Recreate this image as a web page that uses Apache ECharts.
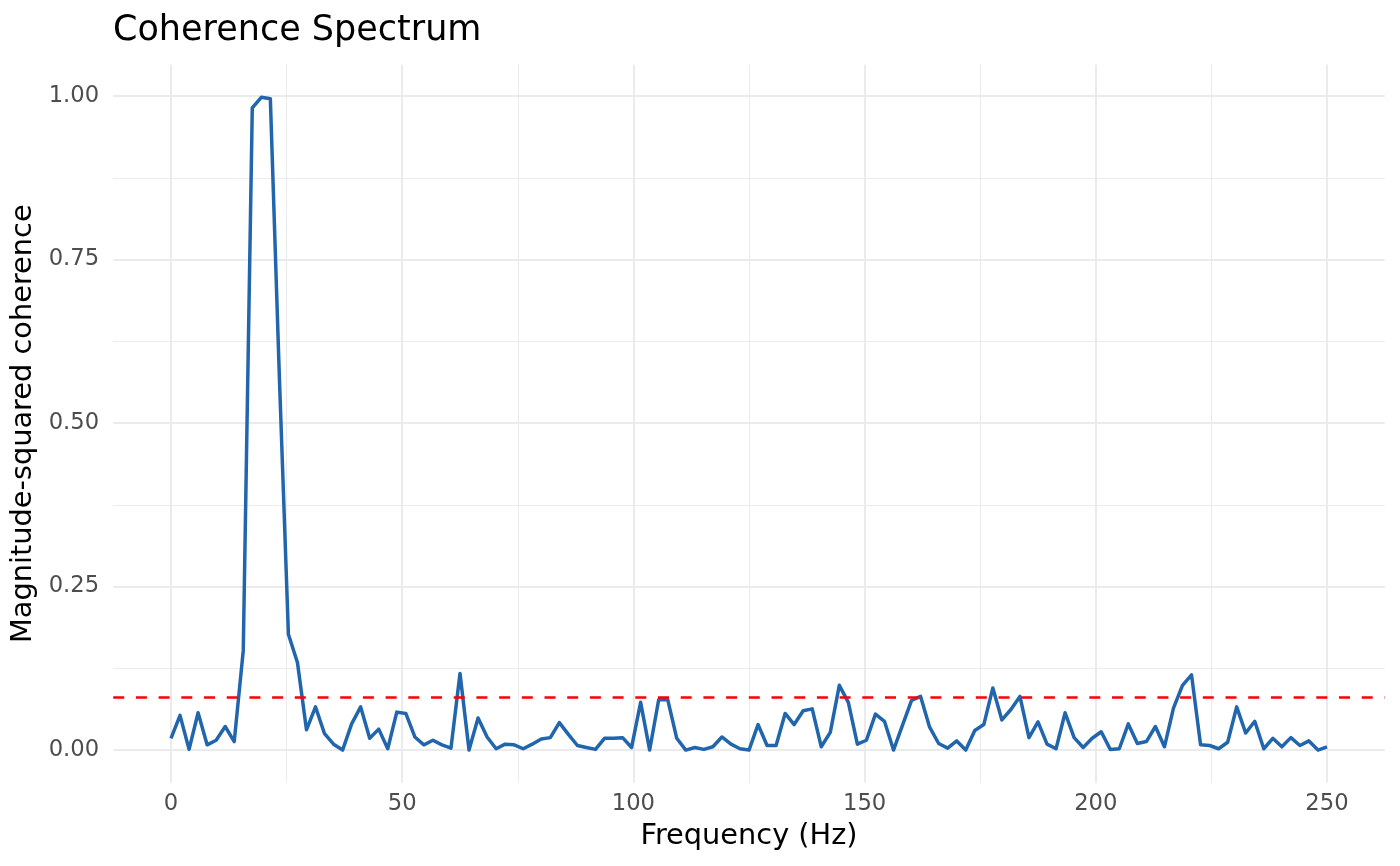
<!DOCTYPE html>
<html>
<head>
<meta charset="utf-8">
<script src="https://cdn.jsdelivr.net/npm/echarts@6/dist/echarts.min.js"></script>
<style>
html,body{margin:0;padding:0;background:#fff;}
#chart{width:1400px;height:866px;}
</style>
</head>
<body>
<div id="chart"></div>
<script>
const frequencies = [0,1.953,3.906,5.859,7.813,9.766,11.719,13.672,15.625,17.578,19.531,21.484,23.438,25.391,27.344,29.297,31.25,33.203,35.156,37.109,39.063,41.016,42.969,44.922,46.875,48.828,50.781,52.734,54.688,56.641,58.594,60.547,62.5,64.453,66.406,68.359,70.313,72.266,74.219,76.172,78.125,80.078,82.031,83.984,85.938,87.891,89.844,91.797,93.75,95.703,97.656,99.609,101.563,103.516,105.469,107.422,109.375,111.328,113.281,115.234,117.188,119.141,121.094,123.047,125,126.953,128.906,130.859,132.813,134.766,136.719,138.672,140.625,142.578,144.531,146.484,148.438,150.391,152.344,154.297,156.25,158.203,160.156,162.109,164.063,166.016,167.969,169.922,171.875,173.828,175.781,177.734,179.688,181.641,183.594,185.547,187.5,189.453,191.406,193.359,195.313,197.266,199.219,201.172,203.125,205.078,207.031,208.984,210.938,212.891,214.844,216.797,218.75,220.703,222.656,224.609,226.563,228.516,230.469,232.422,234.375,236.328,238.281,240.234,242.188,244.141,246.094,248.047,250];
const coherence = [0.018,0.053,0.001,0.057,0.008,0.015,0.036,0.013,0.152,0.982,0.998,0.996,0.57,0.177,0.134,0.031,0.066,0.025,0.009,0.000,0.040,0.066,0.018,0.032,0.002,0.058,0.056,0.020,0.008,0.015,0.008,0.003,0.117,0.000,0.049,0.020,0.002,0.009,0.008,0.002,0.009,0.017,0.019,0.042,0.024,0.007,0.004,0.001,0.018,0.018,0.019,0.004,0.073,0.000,0.077,0.077,0.018,0.000,0.004,0.001,0.005,0.020,0.009,0.002,0.000,0.039,0.007,0.007,0.056,0.039,0.060,0.063,0.005,0.027,0.099,0.073,0.009,0.015,0.055,0.044,0.000,0.038,0.076,0.082,0.035,0.010,0.003,0.014,0.000,0.030,0.039,0.095,0.046,0.062,0.082,0.019,0.043,0.009,0.002,0.057,0.019,0.004,0.018,0.028,0.001,0.002,0.040,0.010,0.013,0.036,0.005,0.064,0.099,0.115,0.008,0.007,0.002,0.012,0.066,0.026,0.044,0.002,0.018,0.005,0.019,0.007,0.014,0.000,0.005];
const threshold = 0.0775;
const xMajorTicks = [0,50,100,150,200,250];
const xMinorTicks = [25,75,125,175,225];
const yMajorTicks = [0,0.25,0.5,0.75,1];
const yMinorTicks = [0.125,0.375,0.625,0.875];

const FONT = 'DejaVu Sans';
const GRID_COLOR = '#EBEBEB';
const xMin = -12.5, xMax = 262.5;
const yMin = -0.0499, yMax = 1.0479;

const chart = echarts.init(document.getElementById('chart'), null, {renderer:'canvas'});
chart.setOption({
  animation: false,
  backgroundColor: '#ffffff',
  title: {
    text: 'Coherence Spectrum',
    left: 113, top: 13, padding: 0,
    textStyle: {fontFamily: FONT, fontSize: 35, fontWeight: 'normal', color: '#000000'}
  },
  grid: {left: 113.2, right: 15.2, top: 64.7, bottom: 83.3, containLabel: false},
  xAxis: [
    {
      type: 'value', min: xMin, max: xMax, gridIndex: 0,
      axisLine: {show: false}, axisTick: {show: false, customValues: xMajorTicks},
      axisLabel: {customValues: xMajorTicks, margin: 10, fontFamily: FONT, fontSize: 22.7, color: '#4D4D4D'},
      splitLine: {show: true, lineStyle: {color: GRID_COLOR, width: 2}},
      name: 'Frequency (Hz)', nameLocation: 'middle', nameGap: 39,
      nameTextStyle: {fontFamily: FONT, fontSize: 28.8, color: '#000000'}
    },
    {
      type: 'value', min: xMin, max: xMax, gridIndex: 0, position: 'bottom',
      axisLine: {show: false}, axisTick: {show: false, customValues: xMinorTicks},
      axisLabel: {show: false, customValues: xMinorTicks},
      splitLine: {show: true, lineStyle: {color: GRID_COLOR, width: 1}}
    }
  ],
  yAxis: [
    {
      type: 'value', min: yMin, max: yMax, gridIndex: 0,
      axisLine: {show: false}, axisTick: {show: false, customValues: yMajorTicks},
      axisLabel: {customValues: yMajorTicks, margin: 14, fontFamily: FONT, fontSize: 22.7, color: '#4D4D4D',
        formatter: v => Number(v).toFixed(2)},
      splitLine: {show: true, lineStyle: {color: GRID_COLOR, width: 2}},
      name: 'Magnitude-squared coherence', nameLocation: 'middle', nameGap: 73, nameRotate: 90,
      nameTextStyle: {fontFamily: FONT, fontSize: 28.8, color: '#000000'}
    },
    {
      type: 'value', min: yMin, max: yMax, gridIndex: 0, position: 'left',
      axisLine: {show: false}, axisTick: {show: false, customValues: yMinorTicks},
      axisLabel: {show: false, customValues: yMinorTicks},
      splitLine: {show: true, lineStyle: {color: GRID_COLOR, width: 1}}
    }
  ],
  series: [
    {
      type: 'line', xAxisIndex: 0, yAxisIndex: 0,
      data: frequencies.map((f, i) => [f, coherence[i]]),
      showSymbol: false, symbol: 'none', smooth: false,
      lineStyle: {color: '#2166AC', width: 3.5, join: 'round', cap: 'butt'},
      z: 3,
      markLine: {
        silent: true, symbol: ['none','none'],
        label: {show: false},
        lineStyle: {color: '#FF0000', width: 2.7, type: [11, 11.7]},
        data: [{yAxis: threshold}]
      }
    }
  ]
});
</script>
</body>
</html>
